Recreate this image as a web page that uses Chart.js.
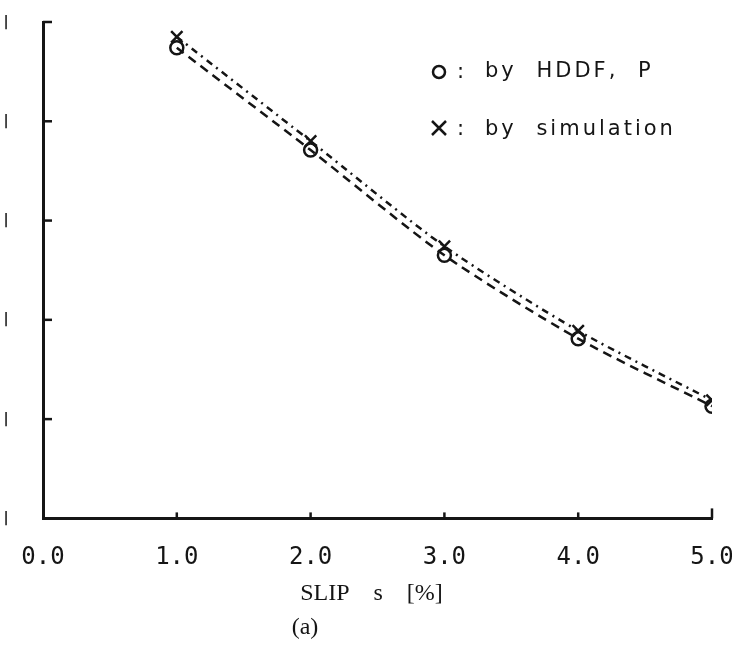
<!DOCTYPE html>
<html>
<head>
<meta charset="utf-8">
<script src="https://cdn.jsdelivr.net/npm/chart.js@4.4.1/dist/chart.umd.min.js"></script>
<style>
  html, body { margin: 0; padding: 0; background: #fff; }
  #wrap { width: 732px; height: 660px; }
</style>
</head>
<body>
<div id="wrap"><canvas id="chart" width="732" height="660"></canvas></div>
<script>
// ---- data ----
const slip = [1.0, 2.0, 3.0, 4.0, 5.0];
const hddf = [4.74, 3.71, 2.65, 1.81, 1.13];
const simulation = [4.85, 3.80, 2.74, 1.89, 1.19];
const xTicks = [0, 1, 2, 3, 4, 5];
const yTicks = [0, 1, 2, 3, 4, 5];

const ink = '#151515';

// short tick marks drawn on the inside of both axes,
// plus the cut-off remains of the y tick labels at the left edge
const innerTicks = {
  id: 'innerTicks',
  afterDraw(chart) {
    const ctx = chart.ctx;
    const x = chart.scales.x, y = chart.scales.y;
    ctx.save();
    ctx.strokeStyle = ink;
    ctx.fillStyle = ink;
    ctx.lineWidth = 2.5;
    ctx.font = 'bold 14px "DejaVu Sans"';
    ctx.textAlign = 'center';
    ctx.textBaseline = 'middle';
    yTicks.forEach(v => {
      const py = y.getPixelForValue(v);
      ctx.fillText('|', 6, py);
      if (v === 0) return;
      ctx.beginPath();
      ctx.moveTo(x.left, py);
      ctx.lineTo(x.left + 9, py);
      ctx.stroke();
    });
    xTicks.forEach(v => {
      if (v === 0) return;
      const px = x.getPixelForValue(v);
      ctx.beginPath();
      ctx.moveTo(px, y.bottom);
      ctx.lineTo(px, y.bottom - (v === 5 ? 10 : 6));
      ctx.stroke();
    });
    ctx.restore();
  }
};

// legend written inside the plot and the "(a)" caption, as in the original
const extraText = {
  id: 'extraText',
  afterDraw(chart) {
    const ctx = chart.ctx;
    ctx.save();
    ctx.strokeStyle = ink;
    ctx.fillStyle = ink;
    ctx.lineWidth = 2.5;
    ctx.textBaseline = 'middle';

    // circle entry
    ctx.beginPath();
    ctx.arc(439, 72, 6, 0, Math.PI * 2);
    ctx.stroke();
    // cross entry
    ctx.beginPath();
    ctx.moveTo(432, 121); ctx.lineTo(446, 135);
    ctx.moveTo(446, 121); ctx.lineTo(432, 135);
    ctx.stroke();

    ctx.font = '21px "DejaVu Sans"';
    ctx.letterSpacing = '3px';
    ctx.wordSpacing = '10px';
    ctx.fillText(':', 457, 73);
    ctx.fillText(':', 457, 130);
    ctx.fillText('by HDDF, P', 485, 72);
    ctx.fillText('by simulation', 485, 130);

    ctx.letterSpacing = '0px';
    ctx.wordSpacing = '0px';
    ctx.font = '24px "Liberation Serif"';
    ctx.textAlign = 'center';
    ctx.fillText('(a)', 305, 628);
    ctx.restore();
  }
};

new Chart(document.getElementById('chart'), {
  type: 'line',
  data: {
    datasets: [
      {
        label: 'by HDDF, P',
        data: slip.map((s, i) => ({ x: s, y: hddf[i] })),
        borderColor: ink,
        borderWidth: 2.5,
        borderDash: [9, 6],
        tension: 0.25,
        pointStyle: 'circle',
        pointRadius: 6.5,
        pointBorderWidth: 2.5,
        pointBorderColor: ink,
        pointBackgroundColor: 'rgba(0,0,0,0)',
        fill: false
      },
      {
        label: 'by simulation',
        data: slip.map((s, i) => ({ x: s, y: simulation[i] })),
        borderColor: ink,
        borderWidth: 2.5,
        borderDash: [7, 5, 2, 5],
        tension: 0.25,
        pointStyle: 'crossRot',
        pointRadius: 8,
        pointBorderWidth: 2.5,
        pointBorderColor: ink,
        fill: false
      }
    ]
  },
  options: {
    responsive: false,
    animation: false,
    layout: { padding: { top: 22, right: 0, left: 0, bottom: 52 } },
    plugins: {
      legend: { display: false },
      tooltip: { enabled: false }
    },
    scales: {
      x: {
        type: 'linear',
        min: 0,
        max: 5,
        afterBuildTicks: axis => { axis.ticks = xTicks.map(v => ({ value: v })); },
        afterFit: axis => { axis.paddingLeft = 0; axis.paddingRight = 20; },
        grid: { display: false, drawTicks: false },
        border: { display: true, color: ink, width: 3 },
        ticks: {
          color: ink,
          padding: 25,
          font: { family: '"DejaVu Sans Mono"', size: 24 },
          callback: v => v.toFixed(1)
        },
        title: {
          display: true,
          text: 'SLIP    s    [%]  ',
          color: ink,
          font: { family: '"Liberation Serif"', size: 24 },
          padding: { top: -18, bottom: 0 }
        }
      },
      y: {
        type: 'linear',
        min: 0,
        max: 5,
        afterBuildTicks: axis => { axis.ticks = yTicks.map(v => ({ value: v })); },
        afterFit: axis => { axis.width = 43; axis.paddingTop = 0; axis.paddingBottom = 0; },
        grid: { display: false, drawTicks: false },
        border: { display: true, color: ink, width: 3 },
        ticks: { display: false }
      }
    }
  },
  plugins: [innerTicks, extraText]
});
</script>
</body>
</html>
